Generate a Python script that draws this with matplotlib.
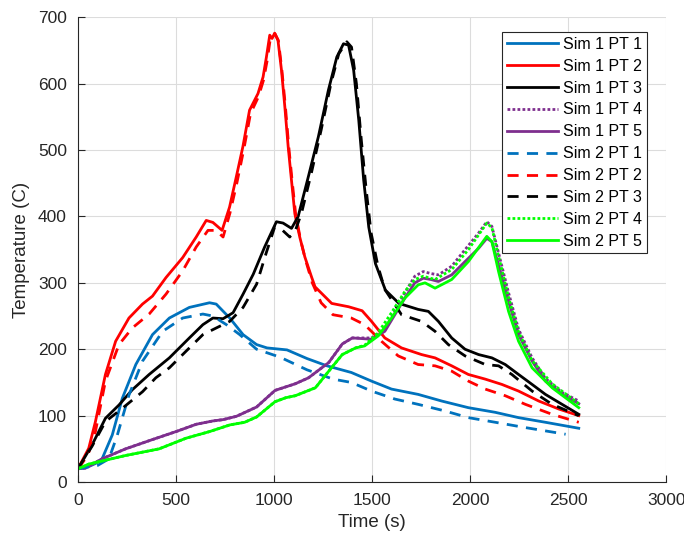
import matplotlib
matplotlib.use("Agg")
import matplotlib.pyplot as plt

plt.rcParams['font.family'] = ['Liberation Sans', 'DejaVu Sans']

# Sim 1 PT 1 (blue solid)
t_s1p1 = [0, 60, 90, 123, 175, 226, 295, 380, 466, 568, 671, 705, 774, 842, 911, 964,
          1066, 1168, 1270, 1394, 1497, 1599, 1735, 1855, 1991, 2128, 2247, 2384, 2554]
T_s1p1 = [20, 24, 28, 35, 71, 126, 177, 222, 247, 263, 270, 268, 247, 222, 207, 202,
          199, 186, 175, 165, 152, 140, 132, 122, 112, 105, 97, 90, 81]

# Sim 1 PT 2 (red solid)
t_s1p2 = [0, 55, 89, 140, 192, 260, 329, 380, 449, 534, 603, 654, 688, 735, 773, 807,
          841, 875, 918, 944, 961, 978, 990, 1003, 1020, 1038, 1055, 1072, 1089, 1106, 1131,
          1157, 1191, 1209, 1294, 1380, 1449, 1497, 1565, 1650, 1752, 1821, 1906, 1991,
          2077, 2162, 2247, 2350, 2452, 2554]
T_s1p2 = [20, 51, 91, 162, 212, 247, 268, 280, 308, 338, 369, 394, 391, 379, 414, 459,
          505, 560, 585, 610, 640, 673, 668, 676, 665, 620, 565, 505, 454, 404, 369,
          339, 309, 294, 269, 264, 258, 242, 217, 202, 192, 187, 175, 162,
          155, 147, 137, 122, 110, 100]

# Sim 1 PT 3 (black solid)
t_s1p3 = [0, 72, 140, 209, 277, 363, 466, 568, 637, 688, 740, 791, 842, 894, 952, 1012,
          1046, 1089, 1123, 1175, 1226, 1277, 1320, 1354, 1380, 1406, 1432, 1457, 1483,
          1517, 1568, 1637, 1735, 1787, 1838, 1906, 1974, 2043, 2111, 2179, 2247, 2316,
          2384, 2452, 2554]
T_s1p3 = [20, 56, 96, 116, 139, 162, 187, 217, 237, 247, 246, 255, 283, 313, 354, 392,
          390, 382, 400, 460, 520, 590, 640, 660, 658, 620, 545, 455, 384,
          329, 289, 269, 260, 257, 242, 217, 200, 192, 187, 177, 162, 147,
          132, 120, 102]

# Sim 1 PT 5 (purple solid)
t_s1p5 = [0, 38, 123, 243, 380, 500, 603, 688, 740, 808, 911, 1005, 1108, 1176, 1279,
          1348, 1399, 1450, 1497, 1565, 1616, 1667, 1718, 1761, 1800, 1838, 1906, 1974,
          2043, 2085, 2111, 2145, 2196, 2247, 2316, 2384, 2469, 2554]
T_s1p5 = [20, 21, 35, 50, 64, 76, 87, 92, 94, 99, 113, 138, 148, 157, 180,
          208, 217, 216, 215, 227, 252, 277, 300, 307, 305, 302, 312, 332,
          352, 367, 362, 327, 272, 222, 182, 152, 132, 118]

# Sim 1 PT 4 (purple dotted)
t_s1p4 = [0, 38, 123, 243, 380, 500, 603, 688, 740, 808, 911, 1005, 1108, 1176, 1279,
          1348, 1399, 1450, 1497, 1565, 1616, 1667, 1718, 1761, 1800, 1838, 1906, 1974,
          2043, 2085, 2111, 2145, 2196, 2247, 2316, 2384, 2469, 2554]
T_s1p4 = [20, 21, 35, 50, 64, 76, 87, 92, 94, 99, 113, 138, 148, 157, 180,
          208, 217, 217, 217, 230, 257, 285, 310, 317, 314, 312, 325, 350,
          375, 392, 385, 345, 285, 230, 187, 156, 135, 122]

# Sim 2 PT 1 (blue dashed)
t_s2p1 = [0, 100, 158, 200, 260, 329, 432, 534, 637, 688, 757, 825, 911, 1031, 1168,
          1301, 1394, 1497, 1616, 1735, 1872, 1991, 2128, 2282, 2487]
T_s2p1 = [20, 25, 35, 70, 131, 182, 227, 247, 253, 250, 237, 222, 200, 188, 169,
          155, 150, 137, 125, 117, 107, 97, 90, 82, 72]

# Sim 2 PT 2 (red dashed)
t_s2p2 = [0, 50, 89, 140, 209, 277, 363, 449, 534, 603, 663, 705, 740, 775, 810, 845,
          880, 920, 946, 965, 982, 1005, 1022, 1040, 1058, 1075, 1092, 1110, 1135, 1160,
          1195, 1240, 1300, 1394, 1462, 1548, 1633, 1735, 1821, 1906, 1991, 2077, 2179,
          2282, 2418, 2554]
T_s2p2 = [20, 40, 76, 152, 207, 232, 253, 283, 318, 354, 379, 379, 369, 405, 450, 500,
          555, 580, 605, 635, 670, 675, 665, 620, 565, 505, 454, 404, 365, 335,
          300, 270, 252, 247, 237, 212, 190, 177, 175, 167, 152, 140, 130,
          117, 102, 90]

# Sim 2 PT 3 (black dashed)
t_s2p3 = [0, 72, 140, 226, 329, 397, 466, 551, 637, 705, 774, 842, 911, 960, 1003, 1040,
          1080, 1110, 1140, 1190, 1240, 1290, 1330, 1371, 1395, 1420, 1445, 1470, 1495,
          1530, 1565, 1650, 1752, 1821, 1889, 1974, 2077, 2145, 2213, 2316, 2418, 2554]
T_s2p3 = [20, 54, 91, 111, 136, 157, 172, 197, 222, 232, 242, 263, 298, 345, 384, 380,
          369, 380, 405, 465, 530, 600, 645, 663, 655, 600, 515, 440, 375,
          325, 290, 252, 242, 227, 207, 190, 177, 175, 162, 137, 117, 100]

# Sim 2 PT 5 (green solid)
t_s2p5 = [0, 55, 243, 414, 551, 671, 774, 850, 911, 960, 1005, 1060, 1108, 1211, 1279,
          1348, 1416, 1462, 1531, 1599, 1667, 1735, 1770, 1821, 1906, 1991, 2085, 2111,
          2145, 2196, 2247, 2316, 2418, 2554]
T_s2p5 = [20, 27, 40, 50, 66, 76, 86, 90, 98, 110, 121, 127, 130, 142, 167,
          192, 202, 205, 220, 247, 277, 297, 300, 292, 305, 332, 370, 362,
          317, 257, 212, 172, 142, 112]

# Sim 2 PT 4 (green dotted)
t_s2p4 = [0, 55, 243, 414, 551, 671, 774, 850, 911, 960, 1005, 1060, 1108, 1211, 1279,
          1348, 1416, 1462, 1531, 1599, 1667, 1718, 1761, 1821, 1906, 1991, 2085, 2111,
          2145, 2196, 2247, 2316, 2418, 2554]
T_s2p4 = [20, 27, 40, 50, 66, 76, 86, 90, 98, 110, 121, 127, 130, 142, 167,
          192, 202, 206, 225, 255, 287, 305, 310, 305, 320, 350, 390, 383,
          340, 278, 226, 183, 148, 118]

blue = '#0072BD'
red = '#FF0000'
black = '#000000'
purple = '#7E2F8E'
green = '#00FF00'
lw = 2.0
dash = (0, (4, 3))
dot = (0, (1, 0.8))

fig = plt.figure(figsize=(6.84, 5.38), dpi=100)
ax = fig.add_axes([0.114, 0.104, 0.860, 0.864])

ax.plot(t_s1p1, T_s1p1, color=blue, lw=lw, label='Sim 1 PT 1')
ax.plot(t_s1p2, T_s1p2, color=red, lw=lw, label='Sim 1 PT 2')
ax.plot(t_s1p3, T_s1p3, color=black, lw=lw, label='Sim 1 PT 3')
ax.plot(t_s1p4, T_s1p4, color=purple, lw=lw, linestyle=dot, label='Sim 1 PT 4')
ax.plot(t_s1p5, T_s1p5, color=purple, lw=lw, label='Sim 1 PT 5')
ax.plot(t_s2p1, T_s2p1, color=blue, lw=lw, linestyle=dash, label='Sim 2 PT 1')
ax.plot(t_s2p2, T_s2p2, color=red, lw=lw, linestyle=dash, label='Sim 2 PT 2')
ax.plot(t_s2p3, T_s2p3, color=black, lw=lw, linestyle=dash, label='Sim 2 PT 3')
ax.plot(t_s2p4, T_s2p4, color=green, lw=lw, linestyle=dot, label='Sim 2 PT 4')
ax.plot(t_s2p5, T_s2p5, color=green, lw=lw, label='Sim 2 PT 5')

ax.set_xlim(0, 3000)
ax.set_ylim(0, 700)
ax.set_xticks(range(0, 3001, 500))
ax.set_yticks(range(0, 701, 100))
ax.grid(True, color='#dcdcdc', lw=0.8)
ax.set_axisbelow(True)
for s in ['top', 'right']:
    ax.spines[s].set_visible(False)
for s in ['left', 'bottom']:
    ax.spines[s].set_color('#262626')
    ax.spines[s].set_linewidth(0.8)
ax.tick_params(direction='in', length=5, width=0.8, colors='#262626',
               labelsize=12.5, pad=8)
ax.set_xlabel('Time (s)', fontsize=13.5, color='#262626', labelpad=4)
ax.set_ylabel('Temperature (C)', fontsize=13.5, color='#262626', labelpad=6)

leg = ax.legend(loc='upper right', bbox_to_anchor=(0.967, 0.968), fontsize=11.5,
                frameon=True, fancybox=False, edgecolor='#262626', framealpha=1,
                handlelength=3.2, handletextpad=0.3, labelspacing=0.43,
                borderpad=0.3, borderaxespad=0)
leg.get_frame().set_linewidth(0.8)

fig.savefig('out.png', dpi=100)
